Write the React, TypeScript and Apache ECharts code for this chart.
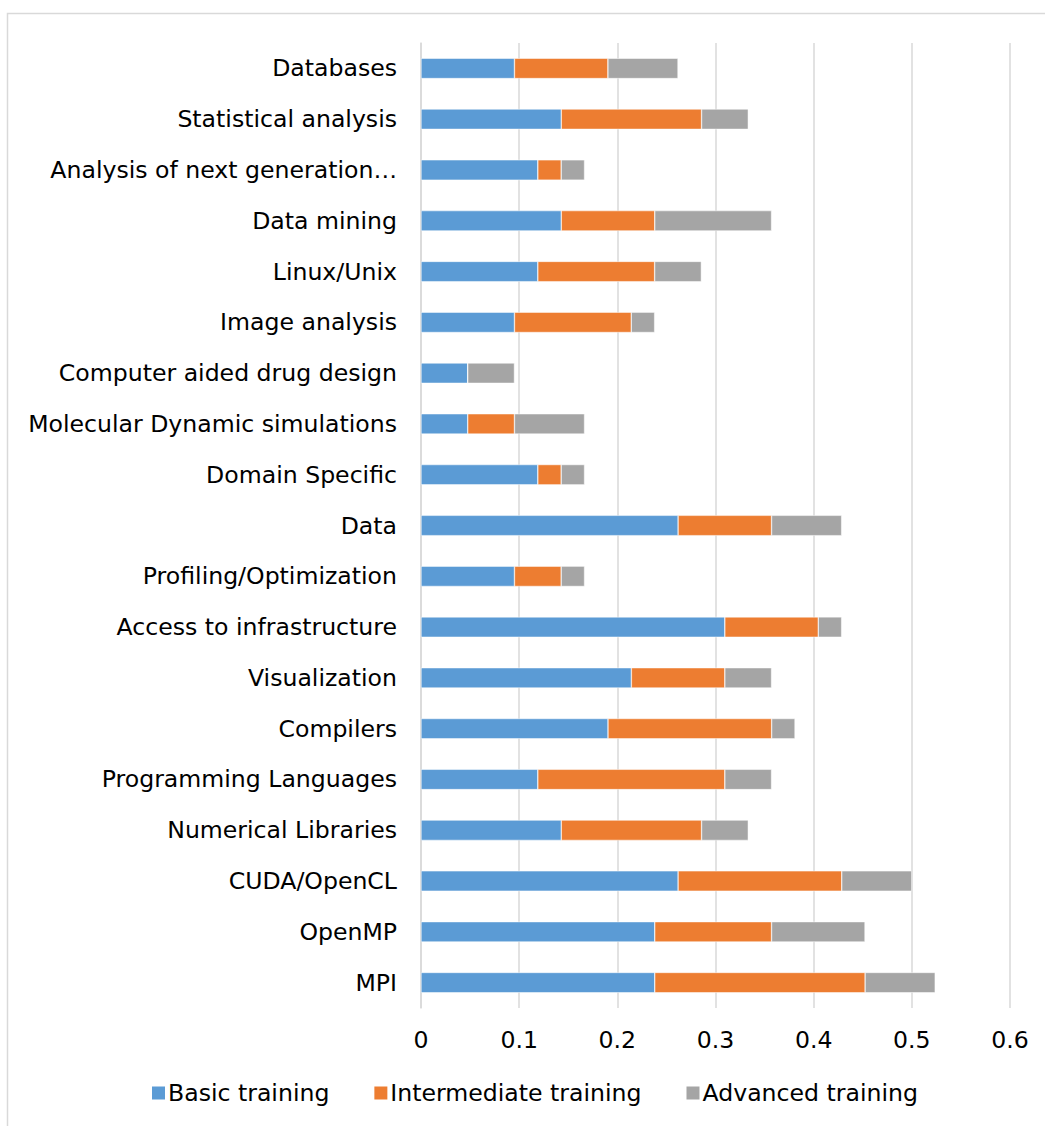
import React, { useEffect, useRef } from "react";
import * as echarts from "echarts";

const categories = [
  "Databases",
  "Statistical analysis",
  "Analysis of next generation…",
  "Data mining",
  "Linux/Unix",
  "Image analysis",
  "Computer aided drug design",
  "Molecular Dynamic simulations",
  "Domain Specific",
  "Data",
  "Profiling/Optimization",
  "Access to infrastructure",
  "Visualization",
  "Compilers",
  "Programming Languages",
  "Numerical Libraries",
  "CUDA/OpenCL",
  "OpenMP",
  "MPI",
];

const basic = [0.0952, 0.1429, 0.119, 0.1429, 0.119, 0.0952, 0.0476, 0.0476, 0.119, 0.2619, 0.0952, 0.3095, 0.2143, 0.1905, 0.119, 0.1429, 0.2619, 0.2381, 0.2381];
const intermediate = [0.0952, 0.1429, 0.0238, 0.0952, 0.119, 0.119, 0, 0.0476, 0.0238, 0.0952, 0.0476, 0.0952, 0.0952, 0.1667, 0.1905, 0.1429, 0.1667, 0.119, 0.2143];
const advanced = [0.0714, 0.0476, 0.0238, 0.119, 0.0476, 0.0238, 0.0476, 0.0714, 0.0238, 0.0714, 0.0238, 0.0238, 0.0476, 0.0238, 0.0476, 0.0476, 0.0714, 0.0952, 0.0714];

const seriesNames = ["Basic training", "Intermediate training", "Advanced training"];
const colors = ["#5B9BD5", "#ED7D31", "#A5A5A5"];
const xTicks = [0, 0.1, 0.2, 0.3, 0.4, 0.5, 0.6];

const FONT = "DejaVu Sans";
const FS = 23.6;

export default function App() {
  const ref = useRef<HTMLDivElement>(null);
  useEffect(() => {
    if (!ref.current) return;
    const chart = echarts.init(ref.current, null, { renderer: "svg" });
    const data = [basic, intermediate, advanced];
    chart.setOption({
      animation: false,
      textStyle: { fontFamily: FONT },
      graphic: [
        {
          type: "rect",
          shape: { x: 7.5, y: 13.5, width: 1100, height: 1200 },
          style: { fill: "none", stroke: "#d9d9d9", lineWidth: 1.5 },
          silent: true,
        },
      ],
      grid: { left: 421, right: 35, top: 43, bottom: 118, containLabel: false },
      legend: {
        left: 145,
        top: 1076,
        itemWidth: 15,
        itemHeight: 15,
        itemGap: 43,
        icon: "rect",
        textStyle: { fontFamily: FONT, fontSize: FS, color: "#000", padding: [0, 0, 0, -3] },
        data: seriesNames,
      },
      xAxis: {
        type: "value",
        min: 0,
        max: 0.6,
        interval: 0.1,
        axisLine: { show: false },
        axisTick: { show: false },
        splitLine: { show: true, lineStyle: { color: "#d9d9d9", width: 1.5 } },
        axisLabel: {
          fontFamily: FONT,
          fontSize: FS,
          color: "#000",
          margin: 20,
          formatter: (v: number) => {
            const t = xTicks.find((x) => Math.abs(x - v) < 1e-9);
            return t === undefined ? "" : String(t);
          },
        },
      },
      yAxis: {
        type: "category",
        inverse: true,
        data: categories,
        axisLine: { show: true, lineStyle: { color: "#d9d9d9", width: 1.5 } },
        axisTick: { show: false },
        axisLabel: { fontFamily: FONT, fontSize: FS, color: "#000", margin: 24 },
      },
      series: seriesNames.map((name, i) => ({
        name,
        type: "bar",
        stack: "total",
        barCategoryGap: "60%",
        data: data[i],
        itemStyle: { color: colors[i], borderColor: "#ffffff", borderWidth: 0.5 },
      })),
    });
    return () => chart.dispose();
  }, []);
  return (
    <div
      ref={ref}
      style={{ position: "fixed", left: 0, top: 0, width: 1045, height: 1126, background: "#fff" }}
    />
  );
}
